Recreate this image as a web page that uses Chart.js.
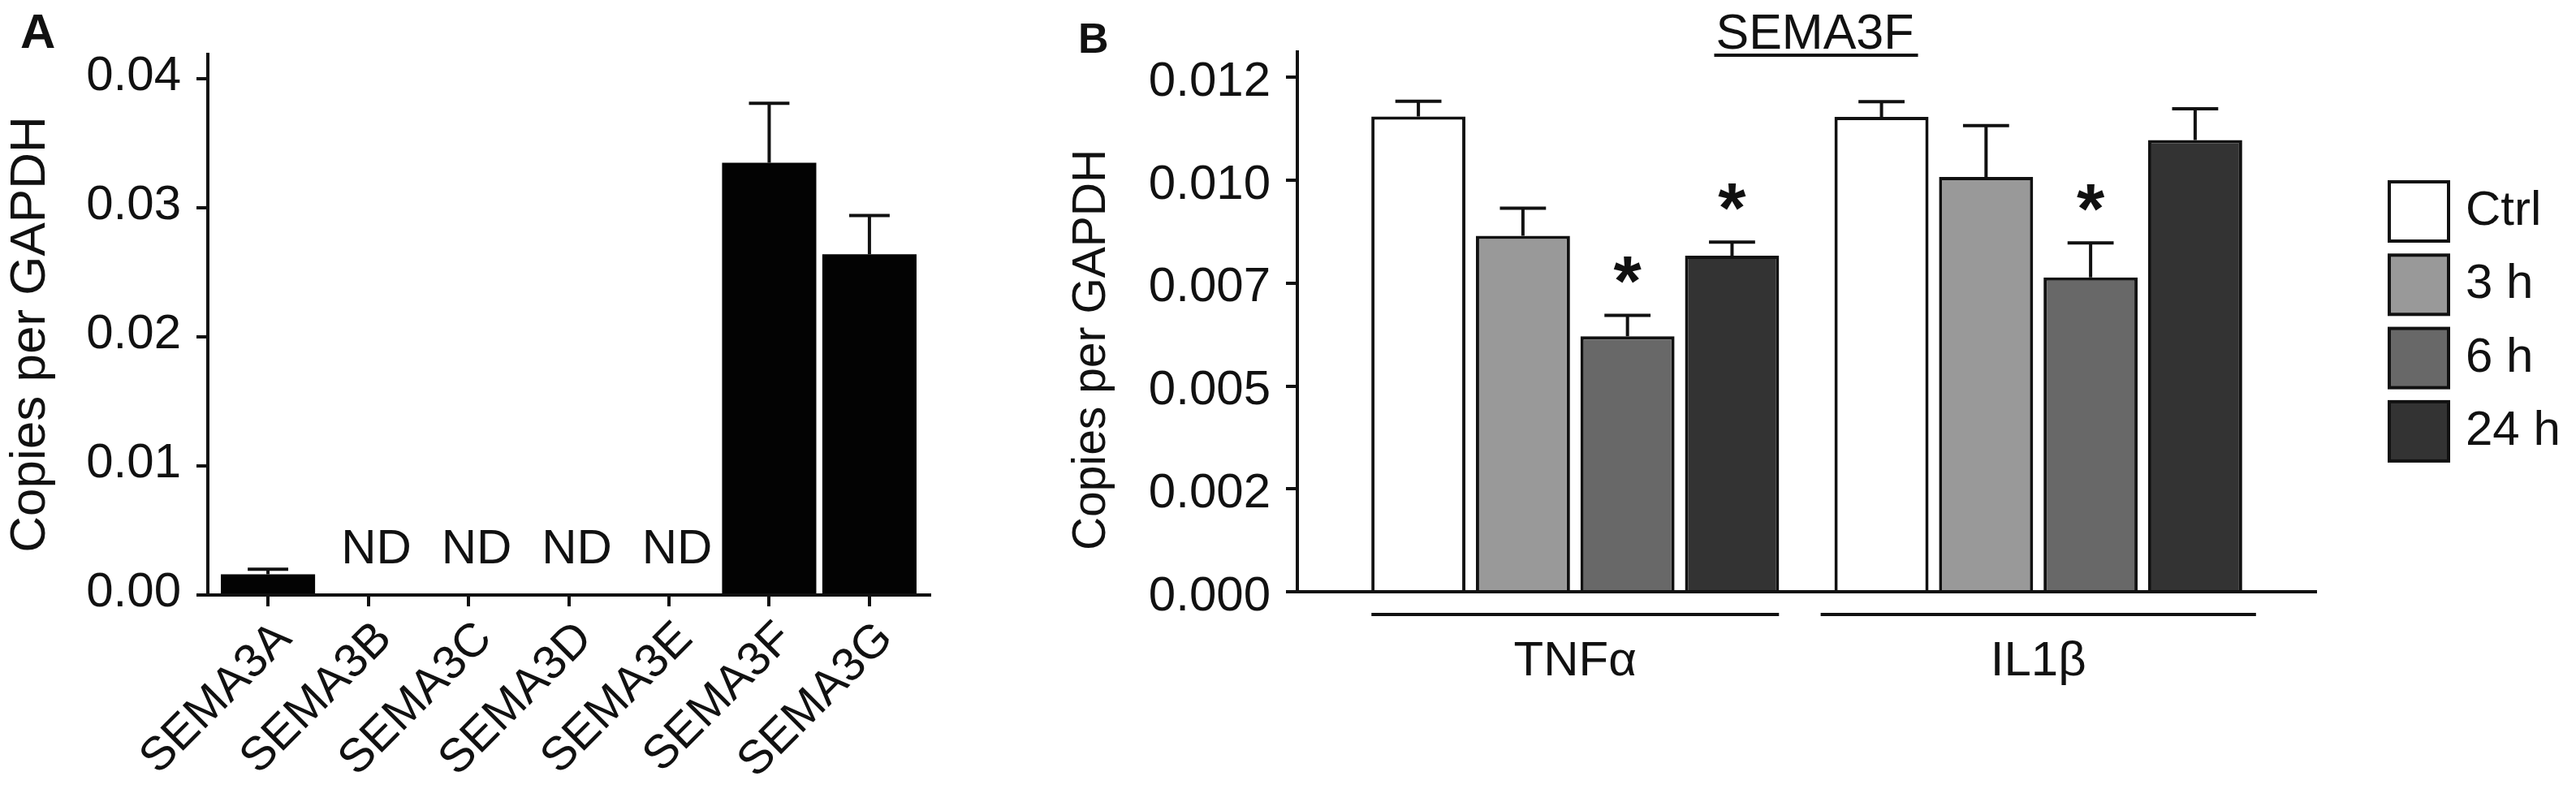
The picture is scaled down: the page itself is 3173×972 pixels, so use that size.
<!DOCTYPE html>
<html>
<head>
<meta charset="utf-8">
<title>SEMA3 expression</title>
<script src="https://cdn.jsdelivr.net/npm/chart.js@4.4.1/dist/chart.umd.min.js"></script>
<style>
  html, body { margin: 0; padding: 0; background: #fff; }
  body { width: 3173px; height: 972px; position: relative; overflow: hidden; }
  canvas { position: absolute; top: 0; }
  #chartA { left: 0; }
  #chartB { left: 1270px; }
</style>
</head>
<body>
<canvas id="chartA" width="1270" height="972"></canvas>
<canvas id="chartB" width="1903" height="972"></canvas>
<script>
// Panel A - class 3 semaphorins
const genes = ['SEMA3A', 'SEMA3B', 'SEMA3C', 'SEMA3D', 'SEMA3E', 'SEMA3F', 'SEMA3G'];
const geneMean = [0.0016, null, null, null, null, 0.0335, 0.0264];
const geneSem = [0.0004, null, null, null, null, 0.0046, 0.0030];
const geneNotes = ['', 'ND', 'ND', 'ND', 'ND', '', ''];
const yTicksA = [0, 0.01, 0.02, 0.03, 0.04];
const yLabelsA = ['0.00', '0.01', '0.02', '0.03', '0.04'];

// Panel B - SEMA3F after cytokine treatment
const stimuli = ['TNFα', 'IL1β'];
const timepoints = ['Ctrl', '3 h', '6 h', '24 h'];
const ctrlMean = [0.01155, 0.01154];
const h3Mean = [0.00865, 0.01008];
const h6Mean = [0.00621, 0.00764];
const h24Mean = [0.00817, 0.01098];
const ctrlSem = [0.00037, 0.00037];
const h3Sem = [0.00067, 0.00125];
const h6Sem = [0.00051, 0.00084];
const h24Sem = [0.00033, 0.00076];
const ctrlStars = ['', ''];
const h3Stars = ['', ''];
const h6Stars = ['*', '*'];
const h24Stars = ['*', ''];
const yTicksB = [0, 0.0025, 0.005, 0.0075, 0.01, 0.0125];
const yLabelsB = ['0.000', '0.002', '0.005', '0.007', '0.010', '0.012'];

const FONT = "'Liberation Sans', Arial, sans-serif";
const INK = '#111';
const barFills = ['#ffffff', '#999999', '#686868', '#333333'];

Chart.defaults.font.family = FONT;
Chart.defaults.color = INK;

// Upper error bars (mean + SEM) on every bar
const errorBars = {
  id: 'errorBars',
  afterDatasetsDraw(chart, args, opts) {
    const { ctx } = chart;
    const y = chart.scales.y;
    ctx.save();
    ctx.strokeStyle = INK;
    ctx.lineWidth = opts.width;
    chart.data.datasets.forEach((ds, di) => {
      chart.getDatasetMeta(di).data.forEach((bar, i) => {
        const m = ds.data[i].y;
        const e = ds.errors[i];
        if (m == null || e == null) return;
        const top = y.getPixelForValue(m + e);
        const half = bar.width * opts.cap / 2;
        ctx.beginPath();
        ctx.moveTo(bar.x, bar.y);
        ctx.lineTo(bar.x, top);
        ctx.moveTo(bar.x - half, top);
        ctx.lineTo(bar.x + half, top);
        ctx.stroke();
        if (ds.stars && ds.stars[i]) {
          ctx.font = 'bold 88px ' + FONT;
          ctx.fillStyle = INK;
          ctx.textAlign = 'center';
          ctx.textBaseline = 'alphabetic';
          ctx.fillText(ds.stars[i], bar.x, top - 12);
        }
      });
    });
    ctx.restore();
  }
};

function rotatedTitle(ctx, text, x, y, size) {
  ctx.save();
  ctx.font = size + 'px ' + FONT;
  ctx.translate(x, y);
  ctx.rotate(-Math.PI / 2);
  ctx.textAlign = 'center';
  ctx.textBaseline = 'middle';
  ctx.fillText(text, 0, 0);
  ctx.restore();
}

const panelA = {
  id: 'panelA',
  afterDraw(chart) {
    const { ctx, scales: { x, y } } = chart;
    ctx.save();
    ctx.fillStyle = INK;
    ctx.font = 'bold 60px ' + FONT;
    ctx.textAlign = 'left';
    ctx.textBaseline = 'alphabetic';
    ctx.fillText('A', 25, 59);
    rotatedTitle(ctx, 'Copies per GAPDH', 38, 412, 62);
    ctx.font = '60px ' + FONT;
    ctx.textAlign = 'center';
    ctx.textBaseline = 'middle';
    geneNotes.forEach((t, i) => {
      if (t) ctx.fillText(t, x.getPixelForValue(i) + 10, y.getPixelForValue(0) - 56);
    });
    ctx.restore();
  }
};

// group brackets under the x axis, in x-axis units
const bracketSpans = [[-0.44, 0.44], [0.53, 1.47]];

const panelB = {
  id: 'panelB',
  afterDraw(chart) {
    const { ctx, scales: { x, y } } = chart;
    ctx.save();
    ctx.fillStyle = INK;
    ctx.strokeStyle = INK;
    ctx.font = 'bold 52px ' + FONT;
    ctx.textAlign = 'left';
    ctx.textBaseline = 'alphabetic';
    ctx.fillText('B', 58, 65);
    rotatedTitle(ctx, 'Copies per GAPDH', 75, 431, 57);

    // underlined panel title
    const cx = x.getPixelForValue(0.5) + 10;
    ctx.font = '61px ' + FONT;
    ctx.textAlign = 'center';
    ctx.fillText('SEMA3F', cx, 60);
    const w = ctx.measureText('SEMA3F').width;
    ctx.lineWidth = 4;
    ctx.beginPath();
    ctx.moveTo(cx - w / 2 - 2, 68);
    ctx.lineTo(cx + w / 2 + 5, 68);
    ctx.stroke();

    // brackets
    const by = y.getPixelForValue(0) + 28;
    ctx.beginPath();
    bracketSpans.forEach(([a, b]) => {
      ctx.moveTo(x.getPixelForValue(a), by);
      ctx.lineTo(x.getPixelForValue(b), by);
    });
    ctx.stroke();

    // legend
    const box = 77, pitch = 90.3, lx = 1671, ly = 222;
    ctx.font = '60px ' + FONT;
    ctx.textAlign = 'left';
    ctx.textBaseline = 'middle';
    chart.data.datasets.forEach((ds, k) => {
      const top = ly + k * pitch;
      ctx.fillStyle = ds.borderColor;
      ctx.fillRect(lx, top, box, box);
      ctx.fillStyle = ds.backgroundColor;
      ctx.fillRect(lx + 4, top + 4, box - 8, box - 8);
      ctx.fillStyle = INK;
      ctx.fillText(ds.label, lx + box + 19, top + box / 2);
    });
    ctx.restore();
  }
};

const axisLine = { color: INK, width: 4, z: 1 };
const tickMarks = { drawOnChartArea: false, drawTicks: true, tickLength: 14, color: INK, lineWidth: 4, offset: false };

new Chart(document.getElementById('chartA'), {
  type: 'bar',
  data: {
    datasets: [{
      label: 'Copies per GAPDH',
      data: geneMean.map((v, i) => ({ x: i, y: v })),
      errors: geneSem,
      backgroundColor: '#030303',
      borderWidth: 0,
      barPercentage: 0.94,
      categoryPercentage: 1
    }]
  },
  options: {
    responsive: false,
    devicePixelRatio: 1,
    animation: false,
    layout: { padding: { left: 0, top: 67, right: 125, bottom: 0 } },
    plugins: {
      legend: { display: false },
      tooltip: { enabled: false },
      errorBars: { width: 4, cap: 0.43 }
    },
    scales: {
      x: {
        type: 'linear', min: -0.6, max: 6.6, offset: false,
        afterBuildTicks: s => { s.ticks = genes.map((g, i) => ({ value: i })); },
        afterFit: s => { s.height = 239; },
        grid: tickMarks,
        border: axisLine,
        ticks: {
          autoSkip: false, minRotation: 45, maxRotation: 45,
          padding: 6, labelOffset: 20,
          font: { size: 58 },
          callback: v => genes[v]
        }
      },
      y: {
        min: 0, max: 0.04189,
        afterBuildTicks: s => { s.ticks = yTicksA.map(v => ({ value: v })); },
        afterFit: s => { s.width = 256; },
        grid: tickMarks,
        border: axisLine,
        ticks: {
          padding: 19, labelOffset: -3,
          font: { size: 60 },
          callback: (v, i) => yLabelsA[i]
        }
      }
    }
  },
  plugins: [errorBars, panelA]
});

const meansB = [ctrlMean, h3Mean, h6Mean, h24Mean];
const semsB = [ctrlSem, h3Sem, h6Sem, h24Sem];
const starsB = [ctrlStars, h3Stars, h6Stars, h24Stars];

new Chart(document.getElementById('chartB'), {
  type: 'bar',
  data: {
    datasets: timepoints.map((t, k) => ({
      label: t,
      data: meansB[k].map((v, i) => ({ x: i, y: v })),
      errors: semsB[k],
      stars: starsB[k],
      backgroundColor: barFills[k],
      borderColor: INK,
      borderWidth: 4,
      borderSkipped: 'start',
      barPercentage: 0.9,
      categoryPercentage: 0.903
    }))
  },
  options: {
    responsive: false,
    devicePixelRatio: 1,
    animation: false,
    layout: { padding: { left: 0, top: 64, right: 320, bottom: 0 } },
    plugins: {
      legend: { display: false },
      tooltip: { enabled: false },
      errorBars: { width: 4, cap: 0.49 }
    },
    scales: {
      x: {
        type: 'linear', min: -0.6, max: 1.6, offset: false,
        afterBuildTicks: s => { s.ticks = stimuli.map((t, i) => ({ value: i })); },
        afterFit: s => { s.height = 243; },
        grid: { display: false, drawTicks: false, offset: false },
        border: axisLine,
        ticks: {
          autoSkip: false, minRotation: 0, maxRotation: 0,
          padding: 50,
          font: { size: 60 },
          callback: v => stimuli[v]
        }
      },
      y: {
        min: 0, max: 0.01312,
        afterBuildTicks: s => { s.ticks = yTicksB.map(v => ({ value: v })); },
        afterFit: s => { s.width = 328; },
        grid: tickMarks,
        border: axisLine,
        ticks: {
          padding: 19, labelOffset: 6,
          font: { size: 60 },
          callback: (v, i) => yLabelsB[i]
        }
      }
    }
  },
  plugins: [errorBars, panelB]
});
</script>
</body>
</html>
